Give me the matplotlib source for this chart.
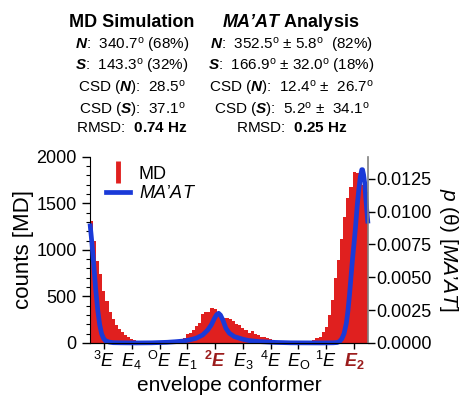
import numpy as np
import matplotlib
matplotlib.use("Agg")
import matplotlib.pyplot as plt
from matplotlib.lines import Line2D
from matplotlib.ticker import MultipleLocator, FormatStrFormatter

plt.rcParams['font.family'] = ['Liberation Sans', 'DejaVu Sans']
plt.rcParams['mathtext.fontset'] = 'custom'
plt.rcParams['mathtext.rm'] = 'Liberation Sans'
plt.rcParams['mathtext.it'] = 'Liberation Sans:italic'
plt.rcParams['mathtext.bf'] = 'Liberation Sans:bold'
plt.rcParams['mathtext.bfit'] = 'Liberation Sans:bold:italic'

# MD histogram, 4 degree bins over the pseudorotation phase angle
bin_left = np.arange(0, 360, 4)
md_counts = [
    1310, 1100, 882, 740, 560, 450, 337, 260, 194, 150,
    120, 86, 62, 42, 30, 20, 12, 8, 5, 3,
    2, 1, 1, 1, 2, 4, 8, 18, 28, 42,
    55, 92, 110, 140, 180, 218, 312, 330, 337, 373,
    365, 330, 285, 270, 265, 255, 240, 204, 190, 160,
    140, 104, 129, 97, 83, 62, 60, 50, 39, 32,
    21, 10, 5, 3, 1, 1, 1, 1, 2, 3,
    7, 16, 32, 50, 68, 122, 176, 301, 460, 700,
    892, 1115, 1350, 1560, 1680, 1840, 1825, 1790, 1700, 1620,
]

# MA'AT probability density
maat_phase = [0, 2.5, 5, 7.5, 10, 12.5, 15, 17.5, 20, 25, 30, 40, 60, 80,
              100, 110, 120, 129, 137.5, 146, 152.5, 157, 161, 164, 166.5,
              169, 172, 176, 180.5, 187, 198, 206, 220, 240, 260, 300,
              315, 320, 323, 326, 329, 332, 334, 336, 338, 340, 342, 344,
              346, 348, 350, 352, 353, 354.4, 356, 357, 358.5, 360]
maat_p = [0.0091, 0.0076, 0.0058, 0.0040, 0.0025, 0.0014, 0.0007, 0.00035,
          0.00017, 0.00006, 0.00002, 0.00001, 0.0, 0.00001,
          0.00005, 0.00009, 0.00014, 0.00023, 0.00036, 0.00061, 0.00099,
          0.00137, 0.00185, 0.00215, 0.00226,
          0.00212, 0.00175, 0.00112, 0.00074, 0.00048, 0.00028, 0.00018,
          0.0001, 0.00004, 0.00001, 0.0,
          0.00001, 0.00003, 0.0001, 0.0003, 0.0007, 0.0015, 0.0024, 0.0036,
          0.0050, 0.0064, 0.0076, 0.0089,
          0.0104, 0.0116, 0.0126, 0.0132, 0.0132, 0.0128, 0.0121, 0.0112,
          0.0101, 0.0091]

conf_pos = [18, 54, 90, 126, 162, 198, 234, 270, 306, 342]
conf_labels = [r'${}^{3}E$', r'$E_4$', r'${}^{\rm O}E$', r'$E_1$',
               r'${}^{\mathbf{2}}\mathbfit{E}$', r'$E_3$', r'${}^{4}E$',
               r'$E_{\rm O}$', r'${}^{1}E$', r'$\mathbfit{E}_{\mathbf{2}}$']
highlight = [4, 9]

md_col = [r'$\mathbfit{N}$:  340.7$^{\rm o}$ (68%)',
          r'$\mathbfit{S}$:  143.3$^{\rm o}$ (32%)',
          r'CSD ($\mathbfit{N}$):  28.5$^{\rm o}$',
          r'CSD ($\mathbfit{S}$):  37.1$^{\rm o}$',
          r'RMSD:  $\mathbf{0.74\ Hz}$']
maat_col = [r'$\mathbfit{N}$:  352.5$^{\rm o}$ ± 5.8$^{\rm o}$  (82%)',
            r'$\mathbfit{S}$:  166.9$^{\rm o}$ ± 32.0$^{\rm o}$ (18%)',
            r'CSD ($\mathbfit{N}$):  12.4$^{\rm o}$ ±  26.7$^{\rm o}$',
            r'CSD ($\mathbfit{S}$):  5.2$^{\rm o}$ ±  34.1$^{\rm o}$',
            r'RMSD:  $\mathbf{0.25\ Hz}$']

red = '#e0201f'
blue = '#1a3ad8'
dark_red = '#9b1c1c'

fig = plt.figure(figsize=(4.64, 3.96), dpi=100)
ax = fig.add_axes([0.194, 0.134, 0.599, 0.470])

ax.bar(bin_left, md_counts, width=4, align='edge', color=red, linewidth=0)
ax.set_xlim(0, 360)
ax.set_ylim(0, 2000)
ax.yaxis.set_major_locator(MultipleLocator(500))
ax.yaxis.set_minor_locator(MultipleLocator(100))
ax.set_xticks(conf_pos)
ax.set_xticklabels(conf_labels, fontsize=13)
for i in highlight:
    ax.get_xticklabels()[i].set_color(dark_red)
ax.tick_params(axis='y', which='major', direction='out', length=6, width=1, labelsize=13)
ax.tick_params(axis='y', which='minor', direction='out', length=3, width=0.8)
ax.tick_params(axis='x', direction='out', length=4, width=1, pad=2)
ax.spines['top'].set_visible(False)
ax.spines['right'].set_visible(False)
ax.set_ylabel('counts [MD]', fontsize=16, labelpad=2)
ax.set_xlabel('envelope conformer', fontsize=15, labelpad=3)

ax2 = ax.twinx()
ax2.plot(maat_phase, maat_p, color=blue, lw=3.4, solid_capstyle='butt', clip_on=False)
ax2.set_ylim(0, 0.01418)
ax2.yaxis.set_major_locator(MultipleLocator(0.0025))
ax2.yaxis.set_major_formatter(FormatStrFormatter('%.4f'))
ax2.tick_params(axis='y', direction='out', length=5, width=1, labelsize=13, pad=1)
ax2.spines['top'].set_visible(False)
ax2.spines['left'].set_visible(False)
ax2.spines['right'].set_color('#808080')
ax2.spines['right'].set_linewidth(1.2)
ax2.set_ylabel(r'$p$ (θ) [$MA’AT$]', fontsize=15, rotation=270, labelpad=20)

handles = [Line2D([], [], color=red, marker='|', linestyle='none', markersize=16, markeredgewidth=3.5),
           Line2D([], [], color=blue, lw=3.4)]
leg = ax2.legend(handles, ['MD', r'$MA’AT$'], loc='upper left', bbox_to_anchor=(0.02, 1.01),
                 frameon=False, fontsize=13, handlelength=1.3, handletextpad=0.5,
                 labelspacing=0.15, borderaxespad=0.2)

# summary text above the plot
fig.text(0.284, 1 - 26.7 / 396, 'MD Simulation', ha='center', va='baseline',
         fontsize=13, fontweight='bold')
fig.text(0.627, 1 - 26.7 / 396, r'$\mathbfit{MA’AT}$ Analysis', ha='center', va='baseline',
         fontsize=13, fontweight='bold')
row_base = [50, 71, 92.7, 115, 131.7]
for yb, s1, s2 in zip(row_base, md_col, maat_col):
    fig.text(0.285, 1 - yb / 396, s1, ha='center', va='baseline', fontsize=11)
    fig.text(0.628, 1 - yb / 396, s2, ha='center', va='baseline', fontsize=11)

fig.savefig('out.png', dpi=100)
